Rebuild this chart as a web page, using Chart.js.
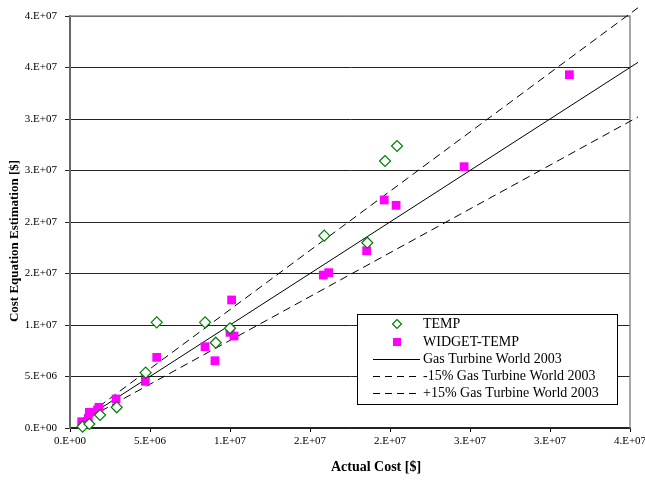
<!DOCTYPE html>
<html>
<head>
<meta charset="utf-8">
<script src="https://cdn.jsdelivr.net/npm/chart.js@4.4.1/dist/chart.umd.min.js"></script>
<style>
  html, body { margin: 0; padding: 0; background: #fff; }
  #wrap { width: 645px; height: 480px; }
</style>
</head>
<body>
<div id="wrap"><canvas id="costChart" width="645" height="480"></canvas></div>
<script>
// TEMP points (actual cost, estimated cost) in $
const tempX = [0.79e6, 1.21e6, 1.88e6, 2.92e6, 4.73e6, 5.42e6, 8.44e6, 9.11e6, 10.0e6, 15.89e6, 18.58e6, 19.69e6, 20.44e6];
const tempY = [0.13e6, 0.39e6, 1.26e6, 2.01e6, 5.37e6, 10.26e6, 10.26e6, 8.28e6, 9.68e6, 18.67e6, 17.99e6, 25.92e6, 27.38e6];

// WIDGET-TEMP points
const widgetX = [0.73e6, 1.14e6, 1.21e6, 1.72e6, 1.81e6, 2.88e6, 4.71e6, 5.42e6, 8.44e6, 9.06e6, 10.0e6, 10.25e6, 10.1e6, 15.83e6, 16.17e6, 18.54e6, 19.64e6, 20.38e6, 24.63e6, 31.21e6];
const widgetY = [0.61e6, 0.94e6, 1.52e6, 1.75e6, 2.01e6, 2.82e6, 4.53e6, 6.86e6, 7.89e6, 6.53e6, 9.29e6, 8.93e6, 12.43e6, 14.85e6, 15.08e6, 17.21e6, 22.14e6, 21.62e6, 25.37e6, 34.30e6];

// reference lines (end points)
const lineX = [0.5e6, 35.5e6];
const gtwY = [0.5e6, 35.5e6];
const minus15Y = [0.575e6, 40.8e6];
const plus15Y = [0.425e6, 30.2e6];

const xTicks = [0, 5e6, 10e6, 15e6, 20e6, 25e6, 30e6, 35e6];
const yTicks = [0, 5e6, 10e6, 15e6, 20e6, 25e6, 30e6, 35e6, 40e6];

const legendLabels = ['TEMP', 'WIDGET-TEMP', 'Gas Turbine World 2003', '-15% Gas Turbine World 2003', '+15% Gas Turbine World 2003'];

const toPts = (xs, ys) => xs.map((x, i) => ({ x: x, y: ys[i] }));

// Excel style "0.E+00"
function sci(v) {
  if (v === 0) return '0.E+00';
  let e = Math.floor(Math.log10(v));
  let m = Math.round(v / Math.pow(10, e));
  if (m >= 10) { m = 1; e += 1; }
  return m + '.E+' + String(e).padStart(2, '0');
}

const serif = '"Liberation Serif", "Times New Roman", serif';

// plot frame, axis titles and legend box
const decor = {
  id: 'decor',
  beforeDatasetsDraw(chart) {
    const { ctx, chartArea: a } = chart;
    ctx.save();
    ctx.strokeStyle = '#8a8a8a';
    ctx.lineWidth = 1.5;
    ctx.beginPath();
    ctx.moveTo(a.left, a.top);
    ctx.lineTo(a.right, a.top);
    ctx.lineTo(a.right, a.bottom);
    ctx.stroke();
    ctx.restore();
  },
  afterDraw(chart) {
    const { ctx } = chart;
    ctx.save();
    ctx.fillStyle = '#000';
    ctx.font = 'bold 14px ' + serif;
    ctx.textAlign = 'center';
    ctx.textBaseline = 'middle';
    ctx.fillText('Actual Cost [$]', 376, 467);

    ctx.translate(15, 241);
    ctx.rotate(-Math.PI / 2);
    ctx.font = 'bold 13px ' + serif;
    ctx.fillText('Cost Equation Estimation [$]', 0, 0);
    ctx.restore();

    // legend
    const bx = 357, by = 314, bw = 260, bh = 90;
    ctx.save();
    ctx.fillStyle = '#fff';
    ctx.fillRect(bx, by, bw, bh);
    ctx.strokeStyle = '#000';
    ctx.lineWidth = 1;
    ctx.strokeRect(bx + 0.5, by + 0.5, bw, bh);
    ctx.font = '14px ' + serif;
    ctx.textAlign = 'left';
    ctx.textBaseline = 'middle';
    const rows = [324, 342, 359, 376, 393];
    rows.forEach((ry, i) => {
      ctx.fillStyle = '#000';
      ctx.fillText(legendLabels[i], 423, ry);
      if (i === 0) {
        ctx.strokeStyle = '#008000';
        ctx.lineWidth = 1.2;
        ctx.beginPath();
        ctx.moveTo(397, ry - 4.5);
        ctx.lineTo(401.5, ry);
        ctx.lineTo(397, ry + 4.5);
        ctx.lineTo(392.5, ry);
        ctx.closePath();
        ctx.stroke();
      } else if (i === 1) {
        ctx.fillStyle = '#ff00ff';
        ctx.fillRect(393, ry - 4, 8, 8);
      } else {
        ctx.strokeStyle = '#000';
        ctx.lineWidth = 1;
        ctx.setLineDash(i === 2 ? [] : [7, 5]);
        ctx.beginPath();
        ctx.moveTo(373, ry + 0.5);
        ctx.lineTo(420, ry + 0.5);
        ctx.stroke();
        ctx.setLineDash([]);
      }
    });
    ctx.restore();
  }
};

const ctx = document.getElementById('costChart').getContext('2d');

new Chart(ctx, {
  type: 'scatter',
  data: {
    datasets: [
      {
        label: legendLabels[0],
        data: toPts(tempX, tempY),
        pointStyle: 'rectRot',
        pointRadius: 5.5,
        borderColor: '#008000',
        backgroundColor: '#fff',
        pointBorderWidth: 1.2,
        clip: false
      },
      {
        label: legendLabels[1],
        data: toPts(widgetX, widgetY),
        pointStyle: 'rect',
        pointRadius: 6.2,
        borderColor: '#ff00ff',
        backgroundColor: '#ff00ff',
        pointBorderWidth: 0,
        clip: false
      },
      {
        label: legendLabels[2],
        data: toPts(lineX, gtwY),
        showLine: true,
        pointRadius: 0,
        borderColor: '#000',
        borderWidth: 1,
        clip: false
      },
      {
        label: legendLabels[3],
        data: toPts(lineX, minus15Y),
        showLine: true,
        pointRadius: 0,
        borderColor: '#000',
        borderWidth: 1,
        borderDash: [8, 5],
        clip: false
      },
      {
        label: legendLabels[4],
        data: toPts(lineX, plus15Y),
        showLine: true,
        pointRadius: 0,
        borderColor: '#000',
        borderWidth: 1,
        borderDash: [8, 5],
        clip: false
      }
    ]
  },
  options: {
    responsive: false,
    animation: false,
    events: [],
    layout: { padding: { top: 16, right: 15, left: 0, bottom: 0 } },
    plugins: {
      legend: { display: false },
      tooltip: { enabled: false }
    },
    scales: {
      x: {
        type: 'linear',
        min: 0,
        max: 35e6,
        afterBuildTicks: (s) => { s.ticks = xTicks.map(v => ({ value: v })); },
        afterFit: (s) => { s.height = 52; s.paddingLeft = 0; s.paddingRight = 0; },
        ticks: {
          callback: (v) => sci(v),
          color: '#000',
          font: { family: serif, size: 11 },
          padding: 3,
          maxRotation: 0,
          autoSkip: false
        },
        grid: { drawOnChartArea: false, color: '#000', tickLength: 4 },
        border: { color: '#222', width: 1.5 }
      },
      y: {
        type: 'linear',
        min: 0,
        max: 40e6,
        afterBuildTicks: (s) => { s.ticks = yTicks.map(v => ({ value: v })); },
        afterFit: (s) => { s.width = 70; s.paddingTop = 0; s.paddingBottom = 0; },
        ticks: {
          callback: (v) => sci(v),
          color: '#000',
          font: { family: serif, size: 11 },
          padding: 8,
          autoSkip: false
        },
        grid: { color: '#222', lineWidth: 1, tickLength: 5 },
        border: { color: '#666', width: 2 }
      }
    }
  },
  plugins: [decor]
});
</script>
</body>
</html>
